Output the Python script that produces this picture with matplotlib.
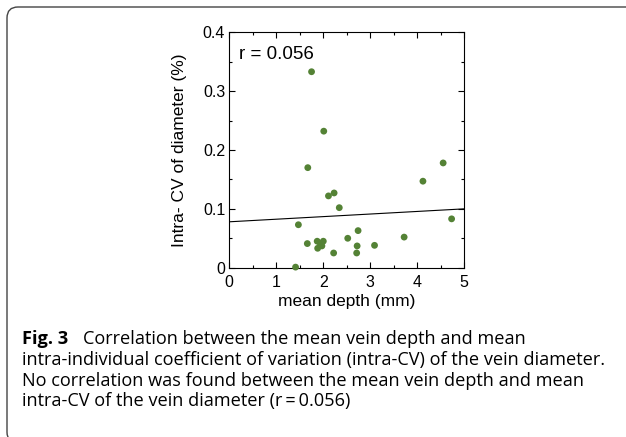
import matplotlib
matplotlib.use("Agg")
import matplotlib.pyplot as plt
from matplotlib.patches import FancyBboxPatch
from matplotlib.transforms import IdentityTransform
from matplotlib.ticker import MultipleLocator

# mean vein depth (mm) vs intra-CV of diameter
depth = [1.75, 2.01, 1.67, 4.55, 4.12, 2.11, 2.23, 2.34, 4.73, 1.47, 2.74, 2.52,
         3.72, 1.66, 1.87, 2.00, 1.94, 1.88, 2.72, 3.09, 2.22, 2.71, 1.41, 1.97]
intra_cv = [0.333, 0.232, 0.170, 0.178, 0.147, 0.122, 0.127, 0.102, 0.083, 0.073,
            0.063, 0.050, 0.052, 0.041, 0.045, 0.045, 0.040, 0.033, 0.037, 0.038,
            0.025, 0.025, 0.001, 0.037]

# regression line end points
fit_x = [0, 5]
fit_y = [0.078, 0.100]

x_ticks = [0, 1, 2, 3, 4, 5]
y_ticks = [0, 0.1, 0.2, 0.3, 0.4]
y_ticklabels = ['0', '0.1', '0.2', '0.3', '0.4']

r_text = "r = 0.056"
caption = [
    "intra-individual coefficient of variation (intra-CV) of the vein diameter.",
    "No correlation was found between the mean vein depth and mean",
    "intra-CV of the vein diameter (r\u2009=\u20090.056)",
]

plt.rcParams['font.family'] = ['Liberation Sans', 'DejaVu Sans']

fig = plt.figure(figsize=(6.26, 4.37), dpi=100)
ax = fig.add_axes([229.3 / 626, 169.3 / 437, 235 / 626, 235.4 / 437])

ax.plot(fit_x, fit_y, color='black', lw=0.8, zorder=2)
ax.scatter(depth, intra_cv, s=24, color='#548235', edgecolors='none', zorder=3,
           clip_on=False)

ax.set_xlim(0, 5)
ax.set_ylim(0, 0.4)
ax.set_xticks(x_ticks)
ax.set_xticklabels([str(t) for t in x_ticks])
ax.set_yticks(y_ticks)
ax.set_yticklabels(y_ticklabels)
ax.xaxis.set_minor_locator(MultipleLocator(0.5))
ax.yaxis.set_minor_locator(MultipleLocator(0.05))
ax.tick_params(which='both', direction='in', top=True, right=True, width=0.8,
               labelsize=11.5)
ax.tick_params(axis='x', which='both', pad=5)
ax.tick_params(axis='y', which='both', pad=3)
ax.tick_params(which='major', length=4)
ax.tick_params(which='minor', length=2.5)
for s in ax.spines.values():
    s.set_linewidth(0.8)

ax.set_xlabel('mean depth (mm)', fontsize=12.5, labelpad=3)
ax.set_ylabel('Intra- CV of diameter (%)', fontsize=12.5, labelpad=11)
ax.text(0.2, 0.363, r_text, fontsize=13.5, va='center', ha='left')

# caption
cap_font = ['Open Sans', 'DejaVu Sans']
cap_size = 13.1
fig.text(22 / 626, 1 - 344 / 437, 'Fig. 3', fontsize=cap_size, fontweight='bold',
         family=cap_font, va='baseline', ha='left')
fig.text(83 / 626, 1 - 344 / 437,
         'Correlation between the mean vein depth and mean',
         fontsize=cap_size, family=cap_font, va='baseline', ha='left')
for i, line in enumerate(caption):
    fig.text(22 / 626, 1 - (365 + 20.7 * i) / 437, line, fontsize=cap_size,
             family=cap_font, va='baseline', ha='left')

# rounded frame
frame = FancyBboxPatch((7, -6), 640, 437 - 7 + 6, transform=IdentityTransform(),
                       boxstyle='round,pad=0,rounding_size=11', fill=False,
                       edgecolor='#444444', lw=1.0)
fig.patches.append(frame)

fig.savefig('out.png', dpi=100)
